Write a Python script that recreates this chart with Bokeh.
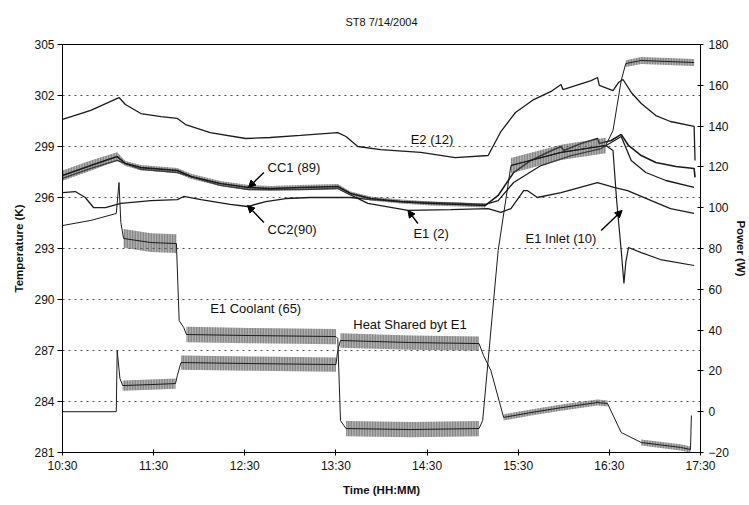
from bokeh.plotting import figure
from bokeh.models import Range1d, LinearAxis, FixedTicker, Arrow, NormalHead, Title
from bokeh.core.properties import value
from bokeh.embed import file_html
from bokeh.resources import INLINE

FONT = "Liberation Sans"

# ---------------- axes ----------------
title_text = "ST8 7/14/2004"
time_ticks = [10.5, 11.5, 12.5, 13.5, 14.5, 15.5, 16.5, 17.5]
time_labels = ["10:30", "11:30", "12:30", "13:30", "14:30", "15:30", "16:30", "17:30"]
temp_ticks = [281, 284, 287, 290, 293, 296, 299, 302, 305]
power_ticks = [-20, 0, 20, 40, 60, 80, 100, 120, 140, 160, 180]

# ---------------- data (time in decimal hours) ----------------
e2_time = [10.50, 10.81, 11.12, 11.19, 11.36, 11.58, 11.76, 11.85, 12.12, 12.51, 12.78, 13.11, 13.52,
           13.61, 13.74, 13.99, 14.43, 14.81, 15.17, 15.31, 15.47, 15.67, 15.86, 15.97, 15.99, 16.30,
           16.37, 16.39, 16.54, 16.60, 16.65, 16.74, 16.85, 17.01, 17.17, 17.43, 17.44]
e2_temp = [300.59, 301.12, 301.88, 301.47, 300.94, 300.76, 300.65, 300.29, 299.82, 299.47, 299.53,
           299.65, 299.82, 299.59, 299.00, 298.82, 298.65, 298.35, 298.47, 299.88, 301.00, 301.76,
           302.24, 302.65, 302.35, 302.88, 303.06, 302.59, 302.29, 302.76, 302.94, 302.18, 301.53,
           300.82, 300.47, 300.18, 298.18]

cc1_time = [10.50, 10.81, 11.10, 11.19, 11.36, 11.76, 11.91, 12.23, 12.54, 12.78, 13.11, 13.52, 13.66,
            13.88, 14.21, 14.54, 14.87, 15.14, 15.28, 15.45, 15.64, 15.82, 15.97, 16.00, 16.19, 16.37,
            16.39, 16.52, 16.63, 16.71, 16.85, 17.01, 17.23, 17.43, 17.44]
cc1_temp = [297.29, 297.88, 298.41, 298.00, 297.76, 297.59, 297.24, 296.82, 296.59, 296.53, 296.59,
            296.65, 296.24, 295.94, 295.76, 295.65, 295.59, 295.53, 296.12, 297.47, 298.18, 298.65,
            299.00, 298.76, 299.18, 299.47, 299.18, 299.35, 299.71, 299.06, 298.47, 298.06, 297.82,
            297.71, 297.18]
cc1_noise = [0.3, 0.3, 0.25, 0.15, 0.15, 0.15, 0.15, 0.15, 0.15, 0.15, 0.15, 0.15, 0.12, 0.12, 0.12,
             0.12, 0.12, 0.12, 0, 0, 0, 0, 0, 0, 0, 0, 0, 0, 0, 0, 0, 0, 0, 0, 0]

cc2_time = [10.50, 10.64, 10.75, 10.84, 10.97, 11.14, 11.47, 11.76, 11.83, 12.02, 12.34, 12.53, 12.73,
            12.95, 13.22, 13.50, 13.66, 13.88, 14.21, 14.54, 14.87, 15.14, 15.28, 15.45, 15.75, 16.08,
            16.41, 16.63, 16.74, 16.90, 17.12, 17.43]
cc2_temp = [296.29, 296.35, 296.00, 295.41, 295.41, 295.65, 295.82, 295.88, 296.06, 295.88, 295.59,
            295.47, 295.76, 295.94, 296.00, 296.00, 296.00, 295.88, 295.76, 295.71, 295.65, 295.59,
            295.82, 296.88, 297.88, 298.47, 298.88, 299.59, 298.18, 297.47, 297.00, 296.59]

e1_time = [10.50, 10.81, 11.10, 11.36, 11.76, 12.23, 12.54, 13.11, 13.52, 13.61, 13.85, 14.29, 14.76,
           15.17, 15.31, 15.42, 15.56, 15.60, 15.71, 15.97, 16.37, 16.55, 16.70, 16.96, 17.17, 17.43]
e1_temp = [297.12, 297.71, 298.18, 297.65, 297.47, 296.71, 296.47, 296.47, 296.53, 296.29, 295.65,
           295.24, 295.29, 295.35, 295.12, 295.35, 296.41, 296.41, 296.00, 296.29, 296.88, 296.59,
           296.41, 295.82, 295.35, 295.06]

coolant_time = [10.50, 10.81, 11.09, 11.12, 11.14, 11.17, 11.47, 11.75, 11.78, 11.83, 11.86, 12.56,
                13.50, 13.52, 13.55, 13.61, 14.32, 15.07, 15.11, 15.28, 15.42, 15.97, 16.46, 16.54,
                16.63, 16.68, 16.85, 17.43]
coolant_temp = [294.35, 294.65, 295.06, 296.88, 294.53, 293.59, 293.35, 293.29, 288.76, 288.35, 287.94,
                287.88, 287.82, 287.71, 282.88, 282.41, 282.35, 282.41, 282.88, 292.88, 297.88, 298.65,
                299.06, 299.94, 302.88, 303.88, 304.06, 303.94]
coolant_noise = [0, 0, 0, 0, 0, 0.55, 0.55, 0.55, 0, 0, 0.45, 0.45, 0.45, 0, 0, 0.45, 0.45, 0.45, 0, 0,
                 0.45, 0.45, 0.45, 0, 0, 0.2, 0.2, 0.2]

inlet_time = [15.42, 15.97, 16.46, 16.54, 16.58, 16.63, 16.66, 16.68, 16.71, 16.85, 17.06, 17.43]
inlet_temp = [297.88, 298.65, 299.06, 298.76, 295.82, 292.88, 290.94, 292.18, 293.06, 292.76, 292.35, 292.00]

heat_time = [10.50, 11.09, 11.10, 11.13, 11.16, 11.47, 11.74, 11.76, 11.80, 12.56, 13.50, 13.52, 13.55,
             14.32, 15.07, 15.12, 15.20, 15.34, 15.64, 15.99, 16.37, 16.48, 16.63, 16.85, 17.28, 17.39, 17.40]
heat_power = [0.0, 0.0, 30.0, 16.3, 12.8, 13.3, 13.8, 17.7, 24.1, 23.6, 23.1, 30.0, 34.9, 33.9, 33.4,
              27.5, 20.2, -2.8, -0.4, 2.1, 4.5, 4.0, -10.2, -15.1, -17.5, -18.5, -1.9]
heat_noise = [0, 0, 0, 0, 2.5, 2.5, 2.5, 0, 3.5, 3.5, 3.5, 0, 3.5, 3.5, 3.5, 0, 0, 1.5, 1.5, 1.5, 1.5,
              1.5, 0, 1.5, 1.5, 1.5, 0]

label_text = ["E2 (12)", "CC1 (89)", "CC2(90)", "E1 (2)", "E1 Inlet (10)", "E1 Coolant (65)",
              "Heat Shared byt E1"]
label_time = [14.32, 12.75, 12.75, 14.35, 15.58, 12.12, 13.69]
label_temp = [299.41, 297.76, 294.12, 293.88, 293.59, 289.47, 288.53]

arrow_time0 = [12.71, 12.71, 14.40, 16.41]
arrow_temp0 = [297.47, 294.53, 294.47, 294.06]
arrow_time1 = [12.54, 12.53, 14.29, 16.64]
arrow_temp1 = [296.59, 295.53, 295.24, 295.24]

# ---------------- figure ----------------
p = figure(width=749, height=505, output_backend="svg", toolbar_location=None,
           x_range=Range1d(10.5, 17.5), y_range=Range1d(281, 305),
           min_border_left=62, min_border_right=40, min_border_top=44, min_border_bottom=53)
p.extra_y_ranges = {"power": Range1d(-20, 180)}
p.background_fill_color = "white"
p.border_fill_color = "white"
p.outline_line_color = "black"
p.outline_line_width = 1

p.title = Title(text=title_text, align="center", text_font=FONT, text_font_size="11px",
                text_font_style="normal", text_color="#111", standoff=30, vertical_align="top")

def style_axis(ax):
    ax.axis_line_color = "black"
    ax.major_tick_line_color = "black"
    ax.minor_tick_line_color = None
    ax.major_label_text_font = FONT
    ax.major_label_text_font_size = "12px"
    ax.major_label_text_color = "#111"
    ax.axis_label_text_font = FONT
    ax.axis_label_text_font_size = "11.5px"
    ax.axis_label_text_font_style = "bold"
    ax.axis_label_text_color = "#111"

xa = p.xaxis[0]
xa.ticker = FixedTicker(ticks=time_ticks)
xa.major_label_overrides = {t: l for t, l in zip(time_ticks, time_labels)}
xa.axis_label = "Time (HH:MM)"
xa.major_tick_out = 3
xa.major_tick_in = 3
xa.major_label_standoff = 3
xa.axis_label_standoff = 8
style_axis(xa)

ya = p.yaxis[0]
ya.ticker = FixedTicker(ticks=temp_ticks)
ya.axis_label = "Temperature (K)"
ya.major_tick_out = 5
ya.major_tick_in = 0
ya.major_label_standoff = 3
ya.axis_label_standoff = 6
style_axis(ya)

ra = LinearAxis(y_range_name="power", ticker=FixedTicker(ticks=power_ticks), axis_label="Power (W)")
ra.major_tick_out = 3
ra.major_tick_in = 3
ra.major_label_standoff = 5
ra.axis_label_standoff = 3
style_axis(ra)
p.add_layout(ra, "right")

p.xgrid.visible = False
p.ygrid.grid_line_color = "#555"
p.ygrid.grid_line_dash = "2 4"
p.ygrid.grid_line_width = 1

LINE = "#1c1c1c"

def draw(t, v, noise=None, rng="default", width=1.3):
    if noise is not None:
        seg = []
        for i in range(len(t) + 1):
            if i < len(t) and noise[i] > 0:
                seg.append(i)
            else:
                if len(seg) >= 2:
                    p.varea(x=[t[k] for k in seg],
                            y1=[v[k] - noise[k] for k in seg],
                            y2=[v[k] + noise[k] for k in seg],
                            fill_color="#6e6e6e", fill_alpha=0.5,
                            hatch_pattern="|", hatch_color="#1a1a1a", hatch_alpha=0.9,
                            hatch_scale=1.6, hatch_weight=1, y_range_name=rng)
                seg = []
    p.line(t, v, line_color=LINE, line_width=width, y_range_name=rng)

draw(e2_time, e2_temp)
draw(cc2_time, cc2_temp)
draw(e1_time, e1_temp)
draw(cc1_time, cc1_temp, cc1_noise, width=1.6)
draw(coolant_time, coolant_temp, coolant_noise, width=1.0)
draw(inlet_time, inlet_temp, width=1.2)
draw(heat_time, heat_power, heat_noise, rng="power", width=1.0)

p.text(x=label_time, y=label_temp, text=label_text, text_font=value(FONT), text_font_size="13px",
       text_color="#111", text_baseline="middle", text_align="left")

for x0, y0, x1, y1 in zip(arrow_time0, arrow_temp0, arrow_time1, arrow_temp1):
    p.add_layout(Arrow(x_start=x0, y_start=y0, x_end=x1, y_end=y1, line_color="black",
                       line_width=1.4, end=NormalHead(size=7, fill_color="black", line_color="black")))

open("out.html", "w").write(file_html(p, INLINE))
